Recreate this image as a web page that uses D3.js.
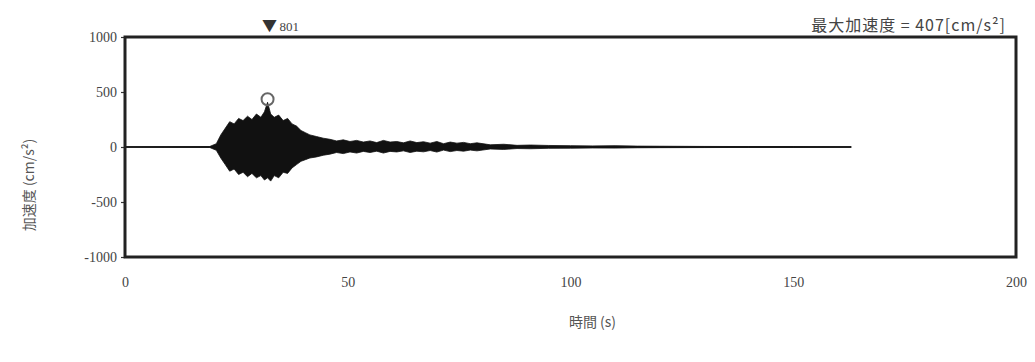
<!DOCTYPE html>
<html>
<head>
<meta charset="utf-8">
<script src="https://cdn.jsdelivr.net/npm/d3@7/dist/d3.min.js"></script>
<style>
  html, body { margin: 0; padding: 0; background: #fff; }
  svg { display: block; }
</style>
</head>
<body>
<svg id="chart" width="1035" height="362"></svg>
<script>
// Envelope of the acceleration record (time in s, cm/s^2)
const envTime  = [0, 19, 20.5, 21.5, 22.5, 23.5, 24.5, 25.5, 26.5, 27.5, 28.5, 29.5, 30.5, 31.3, 32, 32.7, 33.5, 34.5, 35.5, 36.5, 37.5, 38.5, 39.5, 40.5, 41.5, 43, 44.5, 46, 47.5, 49, 50.5, 52, 53.5, 55, 56.5, 58, 59.5, 61, 62.5, 64, 65.5, 67, 68.5, 70, 71.5, 73, 74.5, 76, 77.5, 79, 82, 85, 88, 91, 95, 100, 105, 110, 115, 120, 130, 140, 150, 163];
const envUpper = [2, 4, 30, 110, 170, 230, 210, 260, 240, 280, 250, 300, 270, 320, 407, 300, 270, 290, 240, 260, 210, 190, 150, 130, 110, 95, 80, 70, 55, 65, 50, 60, 45, 55, 40, 60, 45, 50, 38, 55, 40, 48, 35, 50, 30, 45, 35, 42, 30, 38, 20, 25, 15, 18, 14, 12, 10, 12, 8, 7, 5, 4, 4, 3];
const envLower = [-2, -4, -30, -100, -160, -220, -200, -250, -230, -270, -240, -280, -260, -300, -280, -310, -260, -280, -230, -240, -190, -160, -130, -115, -100, -90, -75, -65, -50, -60, -45, -55, -40, -50, -38, -55, -40, -45, -35, -50, -38, -44, -32, -46, -28, -42, -32, -38, -28, -35, -18, -22, -14, -16, -12, -11, -9, -10, -7, -6, -5, -4, -4, -3];

const yTicks = [1000, 500, 0, -500, -1000];
const xTicks = [0, 50, 100, 150, 200];
const peakTime = 32;
const peakValue = 407;
const recordEnd = 163;

const svg = d3.select("#chart");
const margin = { left: 125, right: 19, top: 37, bottom: 105 };
const W = 1035, H = 362;

const x = d3.scaleLinear().domain([0, 200]).range([margin.left, W - margin.right]);
const y = d3.scaleLinear().domain([-1000, 1000]).range([H - margin.bottom, margin.top]);

const serif = "'Liberation Serif', 'DejaVu Serif', serif";
const cjk = "'Noto Sans CJK JP', 'Noto Sans', sans-serif";
const textColor = "#444";

// baseline
svg.append("line")
  .attr("x1", x(0)).attr("x2", x(recordEnd))
  .attr("y1", y(0)).attr("y2", y(0))
  .attr("stroke", "#222").attr("stroke-width", 1.3);

// waveform envelope
const env = envTime.map((t, i) => ({ t, hi: envUpper[i], lo: envLower[i] }));
svg.append("path")
  .datum(env)
  .attr("fill", "#111")
  .attr("stroke", "#111")
  .attr("stroke-width", 0.8)
  .attr("d", d3.area()
    .x(d => x(d.t))
    .y0(d => y(d.lo))
    .y1(d => y(d.hi))
    .curve(d3.curveLinear));

// peak marker
svg.append("circle")
  .attr("cx", x(peakTime))
  .attr("cy", y(peakValue) - 3)
  .attr("r", 6)
  .attr("fill", "none")
  .attr("stroke", "#666")
  .attr("stroke-width", 2);

// axes
const yAxis = d3.axisLeft(y).tickValues(yTicks).tickSize(4).tickPadding(4).tickFormat(d => String(d));
const xAxis = d3.axisBottom(x).tickValues(xTicks).tickSize(0).tickPadding(20).tickFormat(d => String(d));

const gy = svg.append("g").attr("transform", `translate(${margin.left},0)`).call(yAxis);
const gx = svg.append("g").attr("transform", `translate(0,${H - margin.bottom})`).call(xAxis);
[gy, gx].forEach(g => {
  g.select(".domain").remove();
  g.selectAll(".tick line").attr("stroke", "#333").attr("stroke-width", 1.2);
  g.selectAll(".tick text")
    .attr("font-family", serif).attr("font-size", 14)
    .style("fill", textColor);
});

// frame
svg.append("rect")
  .attr("x", x(0)).attr("y", y(1000))
  .attr("width", x(200) - x(0)).attr("height", y(-1000) - y(1000))
  .attr("fill", "none").attr("stroke", "#222").attr("stroke-width", 3);

// titles
svg.append("text")
  .attr("x", x(peakTime) + 2).attr("y", 31)
  .attr("text-anchor", "middle")
  .attr("font-family", cjk).attr("font-size", 15).style("fill", "#333")
  .text("▼");
svg.append("text")
  .attr("x", x(peakTime) + 12).attr("y", 31)
  .attr("font-family", serif).attr("font-size", 13).style("fill", textColor)
  .text("801");

svg.append("text")
  .attr("x", 1006).attr("y", 31)
  .attr("text-anchor", "end")
  .attr("font-family", cjk).attr("font-size", 16).attr("letter-spacing", 1)
  .style("fill", textColor)
  .text("最大加速度 = 407[cm/s²]");

svg.append("text")
  .attr("x", x(100) + 22).attr("y", 327)
  .attr("text-anchor", "middle")
  .attr("font-family", cjk).attr("font-size", 14).style("fill", "#555")
  .text("時間 (s)");

svg.append("text")
  .attr("transform", `translate(34, ${y(0) + 38}) rotate(-90)`)
  .attr("text-anchor", "middle")
  .attr("font-family", cjk).attr("font-size", 14).style("fill", "#555")
  .text("加速度 (cm/s²)");
</script>
</body>
</html>
